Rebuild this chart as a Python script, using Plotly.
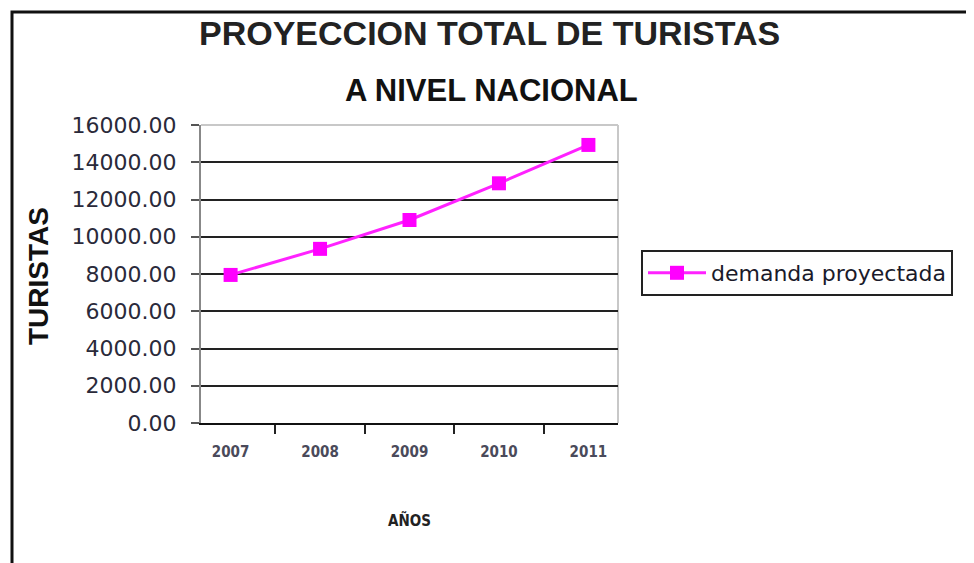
import plotly.graph_objects as go

years = ["2007", "2008", "2009", "2010", "2011"]
demanda = [7950, 9350, 10900, 12870, 14930]
y_ticks = [0, 2000, 4000, 6000, 8000, 10000, 12000, 14000, 16000]
y_tick_labels = ["%.2f" % v for v in y_ticks]

OFF = 8  # page body margin
W, H = 974 - OFF, 563 - OFF
# target screen coordinates of plot area
SL, SR, ST, SB = 201, 618, 125, 423
L, T = SL - OFF, ST - OFF
R = W - (SR - OFF)
B = H - (SB - OFF)
pw, ph = SR - SL, SB - ST

def px(x):
    return (x - SL) / pw

def py(y):
    return (SB - y) / ph

fig = go.Figure()
fig.add_trace(go.Scatter(
    x=years, y=demanda, mode="lines+markers", name="demanda proyectada",
    line=dict(color="#ff22ff", width=3),
    marker=dict(symbol="square", size=14, color="#ff00ff"),
))

fig.update_layout(
    width=W, height=H,
    margin=dict(l=L, r=R, t=T, b=B),
    paper_bgcolor="white", plot_bgcolor="white",
    showlegend=True,
    legend=dict(
        x=px(641), y=py(250), xanchor="left", yanchor="top",
        bgcolor="white", bordercolor="#222", borderwidth=2,
        font=dict(family="DejaVu Sans", size=22, color="#1a1a2a"),
        itemwidth=58,
    ),
    xaxis=dict(
        type="category", tickson="boundaries",
        ticks="outside", ticklen=9, tickwidth=2, tickcolor="#222",
        showline=True, linecolor="#111", linewidth=2,
        showgrid=False,
        tickfont=dict(family="Liberation Sans Narrow, DejaVu Sans Condensed, Arial Narrow", size=15, color="#4a4a5a", weight="bold"),
        ticklabelstandoff=14,
    ),
    yaxis=dict(
        range=[0, 16000], tickvals=y_ticks, ticktext=y_tick_labels,
        ticks="outside", ticklen=8, tickwidth=2, tickcolor="#555",
        showline=True, linecolor="#888", linewidth=2,
        showgrid=True, gridcolor="#222", gridwidth=2,
        zeroline=False,
        tickfont=dict(family="DejaVu Sans", size=22, color="#2a2a3a"),
        ticklabelstandoff=10,
    ),
    annotations=[
        dict(text="<b>PROYECCION TOTAL DE TURISTAS</b>", xref="paper", yref="paper",
             x=px(489), y=py(33), xanchor="center", yanchor="middle", showarrow=False,
             font=dict(family="Liberation Sans, Arial", size=34, color="#222")),
        dict(text="<b>A NIVEL NACIONAL</b>", xref="paper", yref="paper",
             x=px(491), y=py(90), xanchor="center", yanchor="middle", showarrow=False,
             font=dict(family="Liberation Sans, Arial", size=31, color="#111")),
        dict(text="<b>TURISTAS</b>", xref="paper", yref="paper", textangle=-90,
             x=px(38), y=py(276), xanchor="center", yanchor="middle", showarrow=False,
             font=dict(family="Liberation Sans, Arial", size=28, color="#111")),
        dict(text="<b>AÑOS</b>", xref="paper", yref="paper",
             x=px(409), y=py(520), xanchor="center", yanchor="middle", showarrow=False,
             font=dict(family="Liberation Sans Narrow, DejaVu Sans Condensed, Arial Narrow", size=15, color="#222")),
    ],
    shapes=[
        dict(type="rect", xref="paper", yref="paper",
             x0=px(12), x1=px(1100), y0=py(12), y1=py(700),
             line=dict(color="#111", width=3), layer="above"),
        dict(type="line", xref="paper", yref="paper", x0=0, x1=1, y0=1, y1=1,
             line=dict(color="#c8c8c8", width=2), layer="above"),
        dict(type="line", xref="paper", yref="paper", x0=1, x1=1, y0=0, y1=1,
             line=dict(color="#c8c8c8", width=2), layer="below"),
    ],
)

fig.write_html("out.html")
